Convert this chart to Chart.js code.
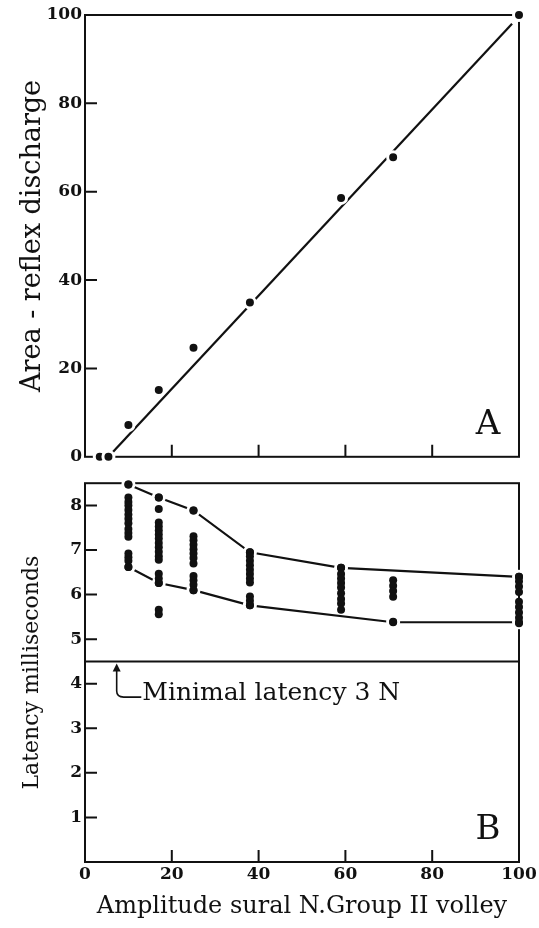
<!DOCTYPE html>
<html>
<head>
<meta charset="utf-8">
<title>Reflex discharge vs sural volley</title>
<script src="https://cdn.jsdelivr.net/npm/chart.js@4/dist/chart.umd.min.js"></script>
<style>
  html, body { margin: 0; padding: 0; background: #fff; }
  #wrap { position: relative; width: 539px; height: 928px; }
  #chartA { position: absolute; left: 0; top: 0; }
  #chartB { position: absolute; left: 0; top: 470px; }
</style>
</head>
<body>
<div id="wrap">
  <canvas id="chartA" width="539" height="470"></canvas>
  <canvas id="chartB" width="539" height="458"></canvas>
</div>
<script>
// --- data ---
// panel A: area of reflex discharge vs volley amplitude
const ampX = [3.4, 5.4, 10, 17, 25, 38, 59, 71, 100];
const areaY = [0, 0, 7.2, 15.1, 24.7, 34.9, 58.6, 67.8, 100];
const fitX = [5.4, 98.4];
const fitY = [0, 98.0];

// panel B: latency columns (ms) at each amplitude
const colX = [10, 17, 25, 38, 59, 71, 100];
const lat10 = [8.47, 8.18, 8.08, 8.0, 7.9, 7.8, 7.7, 7.6, 7.47, 7.38, 7.3, 6.92, 6.84, 6.76, 6.62];
const lat17 = [8.18, 7.92, 7.62, 7.53, 7.44, 7.35, 7.26, 7.16, 7.06, 6.96, 6.86, 6.78, 6.47, 6.36, 6.26, 5.66, 5.56];
const lat25 = [7.89, 7.31, 7.22, 7.12, 7.02, 6.92, 6.82, 6.7, 6.42, 6.32, 6.22, 6.1];
const lat38 = [6.95, 6.86, 6.76, 6.66, 6.56, 6.46, 6.36, 6.27, 5.96, 5.86, 5.76];
const lat59 = [6.6, 6.46, 6.36, 6.26, 6.16, 6.03, 5.9, 5.8, 5.66];
const lat71 = [6.32, 6.2, 6.08, 5.95, 5.39];
const lat100 = [6.4, 6.3, 6.18, 6.06, 5.84, 5.72, 5.6, 5.48, 5.36];
const latCols = [lat10, lat17, lat25, lat38, lat59, lat71, lat100];

const upperX = [10, 17, 25, 38, 59, 100];
const upperY = [8.47, 8.18, 7.89, 6.95, 6.6, 6.4];
const lowerX = [10, 17, 25, 38, 71, 100];
const lowerY = [6.62, 6.26, 6.1, 5.76, 5.38, 5.38];

const minLatency = 4.5;

// ticks
const ampTicks = [0, 20, 40, 60, 80, 100];
const areaTicks = [0, 20, 40, 60, 80, 100];
const latTicks = [1, 2, 3, 4, 5, 6, 7, 8];

const SERIF = '"DejaVu Serif", "Liberation Serif", serif';
const INK = '#111';

const pts = (xs, ys) => xs.map((x, i) => ({ x: x, y: ys[i] }));
const setTicks = list => scale => { scale.ticks = list.map(v => ({ value: v })); };

// frame + inward tick marks, drawn under the data so dot halos can cut it
const framePlugin = {
  id: 'frame',
  beforeDatasetsDraw(chart) {
    const { ctx, chartArea: a, scales } = chart;
    ctx.save();
    ctx.strokeStyle = INK;
    ctx.lineWidth = 2;
    ctx.strokeRect(a.left, a.top, a.right - a.left, a.bottom - a.top);
    ctx.beginPath();
    scales.x.ticks.forEach(t => {
      if (t.value <= scales.x.min || t.value >= scales.x.max) return;
      const px = scales.x.getPixelForValue(t.value);
      ctx.moveTo(px, a.bottom);
      ctx.lineTo(px, a.bottom - 12);
    });
    scales.y.ticks.forEach(t => {
      if (t.value <= scales.y.min || t.value >= scales.y.max) return;
      const py = scales.y.getPixelForValue(t.value);
      ctx.moveTo(a.left, py);
      ctx.lineTo(a.left + 12, py);
    });
    ctx.stroke();
    ctx.restore();
  }
};

// panel letter in the lower right corner
const letterPlugin = {
  id: 'letter',
  afterDatasetsDraw(chart, args, opts) {
    const { ctx, chartArea: a } = chart;
    ctx.save();
    ctx.fillStyle = INK;
    ctx.font = '34px ' + SERIF;
    ctx.textAlign = 'center';
    ctx.textBaseline = 'middle';
    ctx.fillText(opts.text, a.right - 31, a.bottom - 32);
    ctx.restore();
  }
};

// arrow + note pointing at the minimal latency line
const notePlugin = {
  id: 'note',
  afterDatasetsDraw(chart) {
    const { ctx, scales: { x, y } } = chart;
    const ax = x.getPixelForValue(7.3);
    const tipY = y.getPixelForValue(minLatency) + 2;
    const bendY = y.getPixelForValue(3.7);
    const tx = x.getPixelForValue(13.2);
    ctx.save();
    ctx.strokeStyle = INK;
    ctx.fillStyle = INK;
    ctx.lineWidth = 1.6;
    ctx.beginPath();
    ctx.moveTo(ax, tipY + 4);
    ctx.lineTo(ax, bendY - 6);
    ctx.quadraticCurveTo(ax, bendY, ax + 7, bendY);
    ctx.lineTo(tx - 1, bendY);
    ctx.stroke();
    ctx.beginPath();
    ctx.moveTo(ax, tipY);
    ctx.lineTo(ax - 4, tipY + 8);
    ctx.lineTo(ax + 4, tipY + 8);
    ctx.closePath();
    ctx.fill();
    ctx.font = '25px ' + SERIF;
    ctx.textAlign = 'left';
    ctx.textBaseline = 'middle';
    ctx.fillText('Minimal latency 3 N', tx, y.getPixelForValue(3.78));
    ctx.restore();
  }
};

const tickFont = { family: SERIF, size: 17, weight: 'bold' };

function baseOptions() {
  return {
    responsive: false,
    animation: false,
    devicePixelRatio: 1,
    plugins: { legend: { display: false }, tooltip: { enabled: false } },
    layout: { padding: { top: 15, right: 20, left: 0, bottom: 0 } }
  };
}

// ---- panel A ----
const optsA = baseOptions();
optsA.plugins.letter = { text: 'A' };
optsA.scales = {
  x: {
    type: 'linear', min: 0, max: 100,
    afterBuildTicks: setTicks(ampTicks),
    ticks: { display: false },
    grid: { display: false, drawTicks: false },
    border: { display: false },
    afterFit: s => { s.height = 8; }
  },
  y: {
    type: 'linear', min: 0, max: 100,
    afterBuildTicks: setTicks(areaTicks),
    ticks: { color: INK, font: tickFont, padding: 3 },
    grid: { display: false, drawTicks: false },
    border: { display: false },
    title: { display: true, text: 'Area - reflex discharge', color: INK, font: { family: SERIF, size: 27 }, padding: { top: 17, bottom: 0 } },
    afterFit: s => { s.width = 85; }
  }
};

new Chart(document.getElementById('chartA'), {
  type: 'scatter',
  data: {
    datasets: [
      {
        data: pts(ampX, areaY),
        pointRadius: 5.5,
        pointBackgroundColor: INK,
        pointBorderColor: '#fff',
        pointBorderWidth: 3,
        clip: false,
        order: 0
      },
      {
        data: pts(fitX, fitY),
        showLine: true,
        borderColor: INK,
        borderWidth: 2.2,
        pointRadius: 0,
        order: 1
      }
    ]
  },
  options: optsA,
  plugins: [framePlugin, letterPlugin]
});

// ---- panel B ----
const optsB = baseOptions();
optsB.layout.padding.top = 13;
optsB.plugins.letter = { text: 'B' };
optsB.scales = {
  x: {
    type: 'linear', min: 0, max: 100,
    afterBuildTicks: setTicks(ampTicks),
    ticks: { color: INK, font: tickFont, padding: 2, maxRotation: 0 },
    grid: { display: false, drawTicks: false },
    border: { display: false },
    title: { display: true, text: 'Amplitude sural N.Group II volley', color: INK, font: { family: SERIF, size: 24 }, padding: { top: 0, bottom: 7 } },
    afterFit: s => { s.height = 66; }
  },
  y: {
    type: 'linear', min: 0, max: 8.5,
    afterBuildTicks: setTicks(latTicks),
    ticks: { color: INK, font: tickFont, padding: 3 },
    grid: { display: false, drawTicks: false },
    border: { display: false },
    title: { display: true, text: 'Latency milliseconds', color: INK, font: { family: SERIF, size: 22 }, padding: { top: 19, bottom: 0 } },
    afterFit: s => { s.width = 85; }
  }
};

const dotSets = latCols.map((col, i) => ({
  data: col.map(v => ({ x: colX[i], y: v })),
  pointRadius: 4,
  pointBackgroundColor: INK,
  pointBorderWidth: 0,
  clip: false,
  order: 0
}));

const envelope = (xs, ys) => ({
  data: pts(xs, ys),
  showLine: true,
  borderColor: INK,
  borderWidth: 2.2,
  pointRadius: 5.5,
  pointBackgroundColor: INK,
  pointBorderColor: '#fff',
  pointBorderWidth: 3,
  clip: false,
  order: 1
});

new Chart(document.getElementById('chartB'), {
  type: 'scatter',
  data: {
    datasets: dotSets.concat([
      envelope(upperX, upperY),
      envelope(lowerX, lowerY),
      {
        data: [{ x: 0, y: minLatency }, { x: 100, y: minLatency }],
        showLine: true,
        borderColor: INK,
        borderWidth: 2,
        pointRadius: 0,
        order: 2
      }
    ])
  },
  options: optsB,
  plugins: [framePlugin, letterPlugin, notePlugin]
});
</script>
</body>
</html>
